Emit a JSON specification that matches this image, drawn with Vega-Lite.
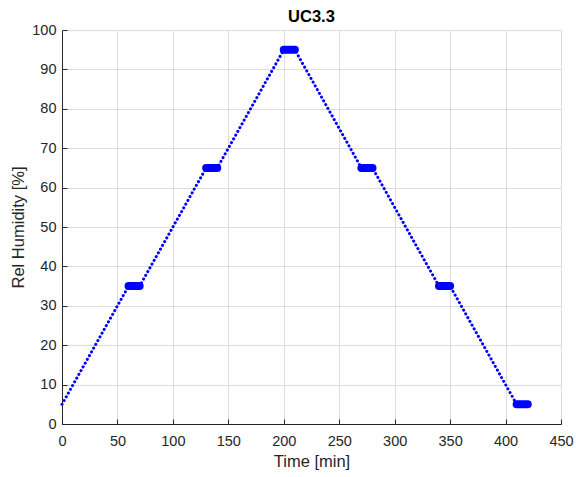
{
  "$schema": "https://vega.github.io/schema/vega-lite/v6.json",
  "width": 499,
  "height": 394,
  "autosize": {"type": "none"},
  "padding": {"left": 62, "top": 30, "right": 15, "bottom": 53},
  "background": "white",
  "title": {"text": "UC3.3", "font": "Liberation Sans", "fontSize": 16.5, "fontWeight": "bold", "color": "black", "offset": 7.5, "dy": 11},
  "config": {
    "view": {"stroke": null},
    "axis": {
      "labelFont": "Liberation Sans", "labelFontSize": 14.5, "labelColor": "#262626", "labelFlush": false,
      "titleFont": "Liberation Sans", "titleFontSize": 16.5, "titleFontWeight": "normal", "titleColor": "#262626",
      "domainColor": "#262626", "domainWidth": 1, "tickColor": "#262626", "tickSize": -5,
      "gridColor": "#dcdcdc", "gridWidth": 1, "gridOpacity": 1
    }
  },
  "data": {"values": [
    {"t": 0, "rh": 5, "phase": "ramp", "step": 0},
    {"t": 60, "rh": 35, "phase": "hold", "step": 1},
    {"t": 70, "rh": 35, "phase": "hold", "step": 1},
    {"t": 130, "rh": 65, "phase": "hold", "step": 2},
    {"t": 140, "rh": 65, "phase": "hold", "step": 2},
    {"t": 200, "rh": 95, "phase": "hold", "step": 3},
    {"t": 210, "rh": 95, "phase": "hold", "step": 3},
    {"t": 270, "rh": 65, "phase": "hold", "step": 4},
    {"t": 280, "rh": 65, "phase": "hold", "step": 4},
    {"t": 340, "rh": 35, "phase": "hold", "step": 5},
    {"t": 350, "rh": 35, "phase": "hold", "step": 5},
    {"t": 410, "rh": 5, "phase": "hold", "step": 6},
    {"t": 420, "rh": 5, "phase": "hold", "step": 6}
  ]},
  "encoding": {
    "x": {"field": "t", "type": "quantitative", "scale": {"domain": [0, 450], "nice": false},
      "axis": {"title": "Time [min]", "values": [0,50,100,150,200,250,300,350,400,450], "labelPadding": 15, "titlePadding": 6}},
    "y": {"field": "rh", "type": "quantitative", "scale": {"domain": [0, 100], "nice": false},
      "axis": {"title": "Rel Humidity [%]", "values": [0,10,20,30,40,50,60,70,80,90,100], "labelPadding": 11, "titlePadding": 5}}
  },
  "layer": [
    {"mark": {"type": "line", "color": "#0000ff", "strokeWidth": 3, "strokeCap": "round", "strokeDash": [0.1, 4.2]}},
    {"transform": [{"filter": "datum.phase == 'hold'"}],
     "mark": {"type": "line", "color": "#0000ff", "strokeWidth": 8, "strokeCap": "round"},
     "encoding": {"detail": {"field": "step", "type": "nominal"}}}
  ]
}
